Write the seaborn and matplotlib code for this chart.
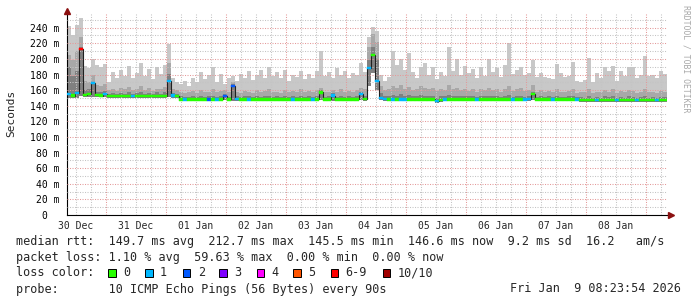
import numpy as np
import pandas as pd
import matplotlib
matplotlib.use("Agg")
import matplotlib.pyplot as plt
import matplotlib.dates as mdates
from matplotlib.ticker import MultipleLocator, FuncFormatter
from matplotlib.patches import Rectangle
import seaborn as sns

# ---------------- data (ms), one value per 96-minute column ----------------
start_time = "2025-12-30 08:24:00"
bin_freq = "96min"

top = [242, 231, 244, 253, 191, 188, 200, 192, 189, 193, 170, 183, 175, 186, 178,
       191, 176, 182, 195, 178, 187, 174, 189, 181, 192, 219, 176, 170, 168, 172,
       165, 176, 170, 183, 174, 180, 189, 171, 181, 168, 175, 178, 172, 181, 176,
       184, 173, 180, 186, 175, 190, 178, 183, 176, 186, 172, 180, 177, 184, 174,
       181, 176, 185, 210, 178, 183, 175, 188, 179, 185, 176, 182, 180, 195, 183,
       228, 241, 236, 180, 172, 177, 210, 192, 200, 186, 208, 183, 176, 189, 195,
       180, 190, 174, 183, 178, 215, 184, 200, 179, 191, 182, 187, 176, 190, 178,
       200, 183, 188, 177, 192, 220, 181, 186, 190, 180, 182, 199, 177, 182, 177,
       176, 174, 194, 182, 177, 178, 196, 172, 171, 173, 201, 170, 182, 176, 189,
       184, 191, 172, 185, 178, 189, 190, 176, 180, 204, 178, 180, 175, 185, 181]

mid = [205, 198, 210, 228, 172, 170, 180, 166, 165, 168, 160, 162, 159, 163, 161,
       164, 160, 162, 165, 160, 163, 159, 162, 161, 164, 195, 162, 160, 158, 156,
       157, 159, 156, 160, 157, 158, 161, 157, 159, 160, 157, 170, 158, 156, 159,
       158, 156, 160, 157, 159, 161, 157, 158, 156, 160, 157, 159, 158, 161, 157,
       159, 157, 160, 163, 158, 157, 160, 158, 161, 157, 159, 158, 160, 163, 162,
       215, 232, 222, 165, 160, 162, 165, 163, 166, 162, 164, 160, 162, 165, 163,
       161, 163, 159, 162, 160, 166, 161, 163, 160, 162, 159, 161, 158, 162, 160,
       163, 160, 162, 158, 161, 165, 159, 161, 163, 159, 160, 166, 158, 160, 157,
       159, 157, 161, 158, 157, 159, 162, 156, 158, 157, 162, 156, 158, 157, 160,
       158, 161, 156, 159, 157, 160, 159, 156, 158, 162, 157, 158, 156, 159, 158]

dark = [190, 178, 185, 215, 160, 161, 170, 158, 157, 159, 155, 156, 155, 156, 155,
        157, 155, 156, 158, 155, 156, 155, 157, 155, 157, 181, 156, 155, 152, 151,
        151, 152, 151, 153, 151, 152, 153, 151, 152, 155, 151, 168, 152, 151, 152,
        152, 151, 153, 151, 152, 153, 151, 152, 151, 153, 151, 152, 151, 153, 151,
        152, 151, 153, 160, 151, 152, 156, 151, 153, 151, 152, 151, 152, 158, 153,
        198, 215, 200, 156, 153, 152, 154, 153, 155, 152, 154, 152, 153, 154, 153,
        152, 153, 150, 152, 152, 154, 152, 153, 152, 153, 152, 153, 151, 153, 152,
        153, 152, 153, 151, 152, 154, 151, 152, 153, 151, 152, 158, 151, 152, 151,
        152, 151, 152, 151, 151, 152, 153, 151, 151, 150, 152, 150, 151, 150, 152,
        151, 152, 150, 151, 150, 152, 151, 150, 151, 153, 150, 151, 150, 151, 151]

low = [150, 150, 150, 152, 151, 151, 151, 151, 151, 151, 150, 150, 150, 150, 150,
       150, 150, 150, 150, 150, 150, 150, 150, 150, 150, 151, 150, 150, 146, 146,
       146, 146, 146, 146, 146, 146, 146, 146, 146, 147, 146, 146, 146, 146, 146,
       146, 146, 146, 146, 146, 146, 146, 146, 146, 146, 146, 146, 146, 146, 146,
       146, 146, 146, 147, 146, 146, 146, 146, 146, 146, 146, 146, 146, 147, 146,
       165, 182, 160, 147, 146, 146, 146, 146, 146, 146, 146, 146, 146, 146, 146,
       146, 146, 144, 145, 146, 146, 146, 146, 146, 146, 146, 146, 146, 146, 146,
       146, 146, 146, 146, 146, 146, 146, 146, 146, 146, 146, 147, 146, 146, 146,
       146, 146, 146, 146, 146, 146, 146, 146, 145, 145, 145, 145, 145, 145, 145,
       145, 145, 145, 145, 145, 145, 145, 145, 145, 145, 145, 145, 145, 145, 145]

med = [155, 153, 156, 213, 154, 155, 169, 154, 153, 155, 152, 152, 152, 152, 152,
       152, 152, 152, 152, 152, 152, 152, 152, 152, 152, 172, 153, 152, 148, 148,
       148, 148, 148, 148, 148, 148, 148, 148, 148, 152, 148, 165, 149, 148, 148,
       148, 148, 148, 148, 148, 148, 148, 148, 148, 148, 148, 148, 148, 148, 148,
       148, 148, 148, 157, 148, 148, 153, 148, 148, 148, 148, 148, 148, 155, 149,
       188, 205, 172, 150, 149, 148, 148, 148, 148, 148, 148, 148, 148, 148, 148,
       148, 148, 146, 147, 148, 148, 148, 148, 148, 148, 148, 148, 148, 148, 148,
       148, 148, 148, 148, 148, 148, 148, 148, 148, 148, 149, 155, 148, 148, 148,
       148, 148, 148, 148, 148, 148, 148, 148, 147, 147, 147, 147, 147, 147, 147,
       147, 147, 147, 147, 147, 147, 147, 147, 147, 147, 147, 147, 147, 147, 147]

loss = [1, 0, 1, 6, 0, 0, 1, 0, 0, 1, 0, 0, 0, 0, 0,
        0, 1, 0, 0, 0, 0, 0, 0, 0, 0, 1, 1, 0, 0, 1,
        0, 0, 0, 0, 0, 2, 0, 1, 0, 2, 0, 2, 1, 0, 0,
        1, 0, 0, 0, 0, 0, 0, 0, 0, 0, 0, 1, 0, 0, 0,
        0, 1, 0, 0, 0, 0, 1, 0, 0, 0, 0, 0, 0, 1, 0,
        1, 0, 1, 1, 1, 0, 1, 0, 1, 1, 0, 0, 0, 0, 0,
        0, 0, 1, 0, 1, 0, 0, 0, 0, 0, 0, 0, 1, 0, 0,
        0, 0, 0, 0, 0, 0, 1, 0, 0, 1, 1, 0, 0, 0, 0,
        0, 1, 0, 0, 0, 0, 0, 1, 0, 0, 0, 0, 1, 0, 0,
        0, 0, 1, 0, 0, 0, 0, 1, 0, 0, 0, 0, 1, 0, 0]

loss_keys = [0, 1, 2, 3, 4, 5, 6, 10]
loss_labels = ["0", "1", "2", "3", "4", "5", "6-9", "10/10"]
loss_colors = ["#26ff00", "#00b8ff", "#0059ff", "#7e00ff", "#ff00ff", "#ff5500", "#ff0000", "#a10000"]

legend_line1 = "median rtt:  149.7 ms avg  212.7 ms max  145.5 ms min  146.6 ms now  9.2 ms sd  16.2   am/s"
legend_line2 = "packet loss: 1.10 % avg  59.63 % max  0.00 % min  0.00 % now"
legend_line3 = "loss color:"
legend_line4 = "probe:       10 ICMP Echo Pings (56 Bytes) every 90s"
stamp = "Fri Jan  9 08:23:54 2026"
ylabel = "Seconds"
credit = "RRDTOOL / TOBI OETIKER"

# ---------------- figure ----------------
sns.set_style("white")
plt.rcParams["font.family"] = ["DejaVu Sans Mono"]

W, H = 697, 297
fig = plt.figure(figsize=(W / 100, H / 100), dpi=100)
fig.patch.set_facecolor("white")


def fx(x):
    return x / W


def fy(y):
    return 1 - y / H


ax = fig.add_axes([fx(67), fy(215), 600 / W, 202 / H])
ax.set_facecolor("white")

top = np.array(top, float)
mid = np.array(mid, float)
dark = np.array(dark, float)
low = np.array(low, float)
med = np.array(med, float)
loss = np.array(loss)

edges = mdates.date2num(pd.date_range(start_time, periods=len(med) + 1, freq=bin_freq))
starts = edges[:-1]
widths = np.diff(edges)

# smoke layers
ax.stairs(top, edges, baseline=low, fill=True, color="#c8c8c8", zorder=1.0, lw=0)
ax.stairs(mid, edges, baseline=low, fill=True, color="#a8a8a8", zorder=1.1, lw=0)
ax.stairs(dark, edges, baseline=low, fill=True, color="#808080", zorder=1.2, lw=0)

# median line (black) via seaborn
sns.lineplot(x=starts, y=med, ax=ax, color="#202020", linewidth=0.8,
             drawstyle="steps-post", estimator=None, sort=False, zorder=3)

# loss-coloured band around the median
cmap = dict(zip(loss_keys, loss_colors))
def loss_col(v):
    k = max(kk for kk in loss_keys if kk <= v)
    return cmap[k]
cols = [loss_col(v) for v in loss]
sw = 1.4
ax.bar(starts, 2 * sw, bottom=med - sw, width=widths, align="edge",
       color=cols, edgecolor=cols, linewidth=0.3, zorder=4)

ax.set_xlim(edges[0], edges[-1])
ax.set_ylim(0, 258.8)
ax.set_xlabel("")
ax.set_ylabel("")

# grid
ax.yaxis.set_major_locator(MultipleLocator(20))
ax.yaxis.set_minor_locator(MultipleLocator(10))
ax.xaxis.set_major_locator(mdates.DayLocator())
ax.xaxis.set_minor_locator(mdates.HourLocator(byhour=[6, 12, 18]))
ax.set_axisbelow(False)
ax.grid(True, which="major", color="#e49a9a", linestyle=(0, (1, 1.4)), linewidth=0.75)
ax.grid(True, which="minor", color="#c4c4c4", linestyle=(0, (1, 1.4)), linewidth=0.75)

ax.yaxis.set_major_formatter(FuncFormatter(lambda v, p: "0  " if v == 0 else f"{v:.0f} m"))
ax.tick_params(axis="y", which="major", labelsize=7, length=2.5, width=0.7,
               color="#c06060", pad=3, labelcolor="black")
ax.tick_params(axis="y", which="minor", length=2.5, width=0.7, color="#b0b0b0")
ax.tick_params(axis="x", which="major", labelbottom=False, length=2.5, width=0.7, color="#c06060")
ax.tick_params(axis="x", which="minor", labelbottom=False, length=2.5, width=0.7, color="#b0b0b0")

sec = ax.secondary_xaxis("bottom")
sec.xaxis.set_major_locator(mdates.HourLocator(byhour=[12]))
sec.xaxis.set_major_formatter(mdates.DateFormatter("%d %b"))
sec.tick_params(length=0, pad=4.5, labelsize=7)
sec.spines["bottom"].set_visible(False)

for s in ["top", "right"]:
    ax.spines[s].set_visible(False)
ax.spines["left"].set_color("black")
ax.spines["bottom"].set_color("black")
ax.spines["left"].set_linewidth(0.8)
ax.spines["bottom"].set_linewidth(0.8)

ax.plot([0], [1.012], marker="^", ms=4, color="#8b1010", transform=ax.transAxes,
        clip_on=False, zorder=6)
ax.plot([1.006], [0], marker=">", ms=4, color="#8b1010", transform=ax.transAxes,
        clip_on=False, zorder=6)

# axis title and credit
fig.text(fx(11), fy(113), ylabel, rotation=90, ha="center", va="center", fontsize=8)
fig.text(fx(686), fy(59), credit, rotation=270, ha="center", va="center",
         fontsize=5.9, color="#a8a8a8")

# legend text
fs = 8.5
fig.text(fx(16), fy(241), legend_line1, ha="left", va="center", fontsize=fs)
fig.text(fx(16), fy(257), legend_line2, ha="left", va="center", fontsize=fs)
fig.text(fx(16), fy(273), legend_line3, ha="left", va="center", fontsize=fs)
fig.text(fx(16), fy(289), legend_line4, ha="left", va="center", fontsize=fs)
fig.text(fx(681), fy(289), stamp, ha="right", va="center", fontsize=fs)

box_x = [108.3, 145, 182.7, 219.3, 256.7, 293.3, 330.7, 382.7]
for bx, lab, c in zip(box_x, loss_labels, loss_colors):
    fig.patches.append(Rectangle((fx(bx), fy(277)), 7.5 / W, 8 / H,
                                 transform=fig.transFigure, facecolor=c,
                                 edgecolor="black", linewidth=0.7))
    fig.text(fx(bx + 15), fy(273), lab, ha="left", va="center", fontsize=fs)

fig.savefig("out.png", dpi=100, facecolor="white")
